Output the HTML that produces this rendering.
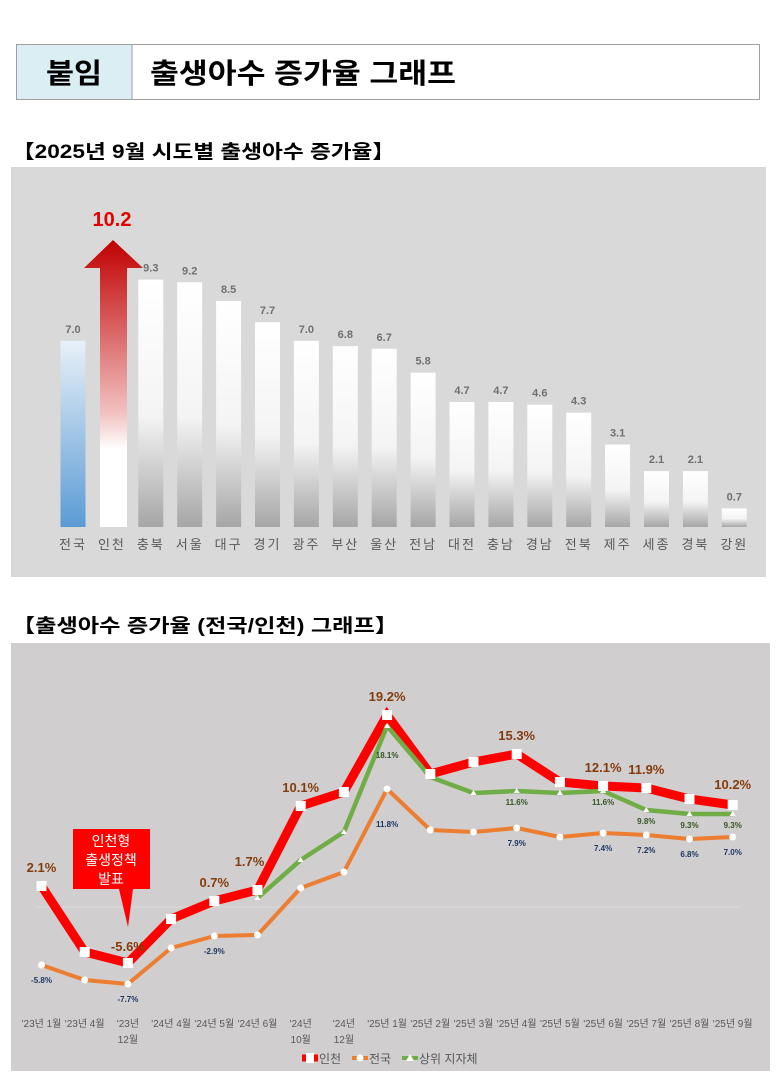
<!DOCTYPE html>
<html><head><meta charset="utf-8"><style>
html,body{margin:0;padding:0;background:#fff;}
svg{display:block;font-family:"Liberation Sans","Noto Sans CJK KR",sans-serif;}
</style></head><body>
<svg width="779" height="1081" viewBox="0 0 779 1081" xmlns="http://www.w3.org/2000/svg">
<defs>
<linearGradient id="gw" x1="0" y1="0" x2="0" y2="1">
<stop offset="0" stop-color="#ffffff"/><stop offset="0.55" stop-color="#f4f4f4"/><stop offset="1" stop-color="#a6a6a6"/></linearGradient>
<linearGradient id="gb" x1="0" y1="0" x2="0" y2="1">
<stop offset="0" stop-color="#e8f0f8"/><stop offset="1" stop-color="#5b9bd5"/></linearGradient>
<linearGradient id="gr" x1="0" y1="0" x2="0" y2="1">
<stop offset="0" stop-color="#c00000"/><stop offset="0.6" stop-color="#f2c0c0"/><stop offset="0.73" stop-color="#ffffff"/><stop offset="1" stop-color="#ffffff"/></linearGradient>
</defs>
<rect x="16.5" y="44.5" width="743" height="55" fill="#fff" stroke="#a0a0a0"/>
<rect x="17" y="45" width="115" height="54" fill="#daeef3"/>
<line x1="132" y1="45" x2="132" y2="99" stroke="#a0a0a0"/>
<text x="74" y="83" font-size="28" font-weight="bold" text-anchor="middle" textLength="56" lengthAdjust="spacingAndGlyphs">붙임</text>
<text x="150" y="83" font-size="28" font-weight="bold" textLength="306" lengthAdjust="spacingAndGlyphs">출생아수 증가율 그래프</text>
<text x="12" y="158" font-size="19" font-weight="bold" textLength="383" lengthAdjust="spacingAndGlyphs">【2025년 9월 시도별 출생아수 증가율】</text>
<rect x="11" y="167" width="755" height="410" fill="#d9d9d9"/>
<g id="bars"></g>
<text x="112" y="226" font-size="20" font-weight="bold" fill="#e00000" text-anchor="middle">10.2</text>
<polygon points="84,268 113,240 143,268 127,268 127,527 100,527 100,268" fill="url(#gr)"/>
<text x="12" y="632" font-size="19" font-weight="bold" textLength="386" lengthAdjust="spacingAndGlyphs">【출생아수 증가율 (전국/인천) 그래프】</text>
<rect x="11" y="643" width="759" height="428" fill="#d0cece"/>
<line x1="35" y1="907" x2="740" y2="907" stroke="#dcdcdc" stroke-width="1"/>
<g id="lines"></g>
<polygon points="73,829 150,829 150,889 133,889 128,927 119,889 73,889" fill="#ff0000"/>
<text x="111" y="846" font-size="14" fill="#fff" text-anchor="middle">인천형</text>
<text x="111" y="865" font-size="14" fill="#fff" text-anchor="middle">출생정책</text>
<text x="111" y="884" font-size="14" fill="#fff" text-anchor="middle">발표</text>
<g font-size="12" fill="#595959">
<line x1="302" y1="1058" x2="318" y2="1058" stroke="#ff0000" stroke-width="7"/><rect x="306" y="1053" width="8" height="10" fill="#fff"/>
<text x="319" y="1063">인천</text>
<line x1="352" y1="1058" x2="368" y2="1058" stroke="#ed7d31" stroke-width="4"/><circle cx="360" cy="1058" r="3.5" fill="#fff"/>
<text x="369" y="1063">전국</text>
<line x1="402" y1="1058" x2="418" y2="1058" stroke="#70ad47" stroke-width="4"/><polygon points="410,1054 414,1061 406,1061" fill="#fff"/>
<text x="419" y="1063">상위 지자체</text>
</g>
</svg>
<script>
(function(){
var ns="http://www.w3.org/2000/svg";
function el(p,t,a,txt){var e=document.createElementNS(ns,t);for(var k in a)e.setAttribute(k,a[k]);if(txt!=null)e.textContent=txt;p.appendChild(e);return e;}
var g=document.getElementById('bars');
var names=["전국","인천","충북","서울","대구","경기","광주","부산","울산","전남","대전","충남","경남","전북","제주","세종","경북","강원"];
var vals=[7.0,10.2,9.3,9.2,8.5,7.7,7.0,6.8,6.7,5.8,4.7,4.7,4.6,4.3,3.1,2.1,2.1,0.7];
for(var i=0;i<18;i++){
 var cx=73+i*38.9, base=527, top=base-vals[i]*26.6;
 if(i!=1){
  el(g,'rect',{x:cx-12.5,y:top,width:25,height:base-top,fill:i==0?'url(#gb)':'url(#gw)'});
  el(g,'text',{x:cx,y:top-8,'font-size':11,'font-weight':'bold',fill:'#707070','text-anchor':'middle'},vals[i].toFixed(1));
 }
 el(g,'text',{x:cx,y:549,'font-size':13,fill:'#595959','text-anchor':'middle','letter-spacing':'2'},names[i]);
}
var L=document.getElementById('lines');
var xs=[];for(var i=0;i<17;i++)xs.push(41.5+i*43.2);
function Y(v){return 907-10*v;}
var inc=[2.1,-4.5,-5.6,-1.2,0.6,1.7,10.1,11.5,19.2,13.3,14.5,15.3,12.5,12.1,11.9,10.8,10.2];
var nat=[-5.8,-7.3,-7.7,-4.1,-2.9,-2.8,1.9,3.5,11.8,7.7,7.5,7.9,7.0,7.4,7.2,6.8,7.0];
var grn=[0.9,4.7,7.5,18.1,13,11.4,11.6,11.4,11.6,9.7,9.3,9.3];
function pts(a,off){return a.map(function(v,i){return xs[i+off]+','+Y(v);}).join(' ');}
el(L,'polyline',{points:pts(nat,0),fill:'none',stroke:'#ed7d31','stroke-width':4,'stroke-linejoin':'round'});
el(L,'polyline',{points:pts(inc,0),fill:'none',stroke:'#ff0000','stroke-width':9,'stroke-linejoin':'miter'});
el(L,'polyline',{points:pts(grn,5),fill:'none',stroke:'#70ad47','stroke-width':4.5,'stroke-linejoin':'round'});
nat.forEach(function(v,i){el(L,'circle',{cx:xs[i],cy:Y(v),r:3.5,fill:'#fff'});});
inc.forEach(function(v,i){el(L,'rect',{x:xs[i]-5,y:Y(v)-5,width:10,height:10,fill:'#fff'});});
grn.forEach(function(v,i){var x=xs[i+5],y=Y(v);el(L,'polygon',{points:(x)+','+(y-3)+' '+(x+3)+','+(y+2)+' '+(x-3)+','+(y+2),fill:'#fff'});});
var il={0:"2.1%",2:"-5.6%",4:"0.7%",5:"1.7%",6:"10.1%",8:"19.2%",11:"15.3%",13:"12.1%",14:"11.9%",16:"10.2%"};
var ilp={0:[0,-14],2:[0,-12],4:[0,-14],5:[-8,-24],6:[0,-14],8:[0,-14],11:[0,-14],13:[0,-14],14:[0,-14],16:[0,-16]};
for(var k in il){el(L,'text',{x:xs[k]+ilp[k][0],y:Y(inc[k])+ilp[k][1],'font-size':13,'font-weight':'bold',fill:'#843c0c','text-anchor':'middle'},il[k]);}
var nl={0:[-5.8,18],2:[-7.7,18],4:[-2.9,18],8:[11.8,38],11:[7.9,18],13:[7.4,18],14:[7.2,18],15:[6.8,18],16:[7.0,18]};
for(var k in nl){el(L,'text',{x:xs[k],y:Y(nat[k])+nl[k][1],'font-size':8,'font-weight':'bold',fill:'#1f3864','text-anchor':'middle'},nl[k][0].toFixed(1)+'%');}
var gl={8:[18.1,'#375623',-1],11:[11.6,'#375623',14],13:[11.6,'#375623',14],14:[9.8,'#375623',14],15:[9.3,'#375623',14],16:[9.3,'#375623',14]};
for(var k in gl){var yy=k==8?Y(14.9):Y(grn[k-5])+gl[k][2];el(L,'text',{x:xs[k],y:yy,'font-size':8,'font-weight':'bold',fill:'#375623','text-anchor':'middle'},gl[k][0].toFixed(1)+'%');}
var cats=[["'23년 1월"],["'23년 4월"],["'23년","12월"],["'24년 4월"],["'24년 5월"],["'24년 6월"],["'24년","10월"],["'24년","12월"],["'25년 1월"],["'25년 2월"],["'25년 3월"],["'25년 4월"],["'25년 5월"],["'25년 6월"],["'25년 7월"],["'25년 8월"],["'25년 9월"]];
cats.forEach(function(c,i){c.forEach(function(s,j){el(L,'text',{x:xs[i],y:1027+j*16,'font-size':10,fill:'#595959','text-anchor':'middle'},s);});});
})();
</script>
</body></html>
